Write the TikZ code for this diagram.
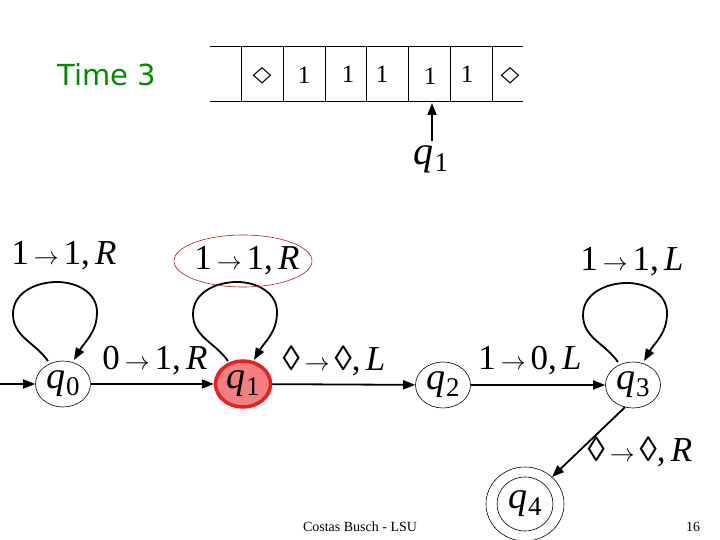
\documentclass[tikz,border=0pt]{standalone}
\usepackage{fontspec}
\setmainfont{Liberation Serif}
\newfontfamily\dejavu{DejaVu Sans}
\newfontfamily\lsans{DejaVu Sans}
\usetikzlibrary{arrows.meta,calc,shapes.geometric}
\definecolor{timegreen}{RGB}{0,140,0}
\definecolor{qred}{RGB}{232,32,32}
\definecolor{qfill}{RGB}{243,128,128}
\definecolor{ovalred}{RGB}{170,30,30}
\newcommand{\qs}[1]{\textit{q}\kern0.02em\raisebox{-7pt}{\fontsize{27}{27}\selectfont #1}}
\newcommand{\trn}[3]{#1\kern0.14em$\rightarrow$\kern0.14em#2,\kern0.15em\textit{#3}}
\newcommand{\dm}{◊}
\newcommand{\loopon}[1]{%
  \draw[edge] ($(#1)+(-15,-23)$) to[out=125,in=270] ($(#1)+(-50,-70)$)
    to[out=90,in=180] ($(#1)+(-6,-102)$)
    to[out=0,in=90] ($(#1)+(34,-72)$)
    to[out=270,in=60] ($(#1)+(11,-24)$);}
\begin{document}
\begin{tikzpicture}[x=1pt,y=-1pt,
  state/.style={draw,ellipse,minimum width=55pt,minimum height=46pt,inner sep=0pt,line width=0.6pt,font=\fontsize{38}{38}\selectfont},
  edge/.style={line width=1.8pt,-{Triangle[length=12pt,width=9pt]}},
  lab/.style={font=\fontsize{35}{35}\selectfont,inner sep=0pt},
  cell/.style={font=\fontsize{25}{25}\selectfont,inner sep=0pt},
  dcell/.style={font=\dejavu\fontsize{22}{22}\selectfont,inner sep=0pt,xscale=1.12},
  tape/.style={line width=1pt}]
\useasboundingbox (0,0) rectangle (720,540);
% Time label
\node[font=\lsans\fontsize{29}{29}\selectfont,text=timegreen] (time) at (107,75) {Time 3};
% tape
\draw[tape] (210,47) -- (523,47);
\draw[tape] (210,102) -- (523,102);
\foreach \x in {241,283,325,366,408,450,492} \draw[tape] (\x,47) -- (\x,102);
\node[dcell] (c1) at (262,76) {◇};
\node[cell] (c2) at (304,75) {1};
\node[cell] (c3) at (348,74) {1};
\node[cell] (c4) at (382,74) {1};
\node[cell] (c5) at (430,76) {1};
\node[cell] (c6) at (467,74) {1};
\node[dcell] (c7) at (510,76) {◇};
\coordinate (headtip) at (432,103);
\node[font=\fontsize{40}{40}\selectfont,inner sep=0pt,anchor=base] (head) at (431,165) {\qs{1}};
\draw[edge] (432,141) -- (headtip);
% states
\node[state] (q0) at (63,384) {\qs{0}};
\node[state,draw=qred,fill=qfill,line width=3.5pt] (q1) at (243,384) {\qs{1}};
\node[state] (q2) at (443,385) {\qs{2}};
\node[state] (q3) at (633,385) {\qs{3}};
\node[state,minimum width=56pt,minimum height=54pt] (q4) at (525,504) {\qs{4}};
\node[draw,ellipse,minimum width=78pt,minimum height=74pt,line width=0.6pt] (q4o) at (525,504) {};
\coordinate (start) at (0,384);
% edges
\draw[edge] (start) -- (q0);
\draw[edge] (q0) -- (q1);
\draw[edge] (q1) -- (q2);
\draw[edge] (q2) -- (q3);
\draw[edge] (q3.250) -- (q4o.45);
\loopon{q0}
\loopon{q1}
\loopon{q3}
% labels
\node[lab] (l01) at (155,361) {\trn{0}{1}{R}};
\node[lab] (l12) at (334,361) {\trn{\dm}{\dm}{L}};
\node[lab] (l23) at (530,361) {\trn{1}{0}{L}};
\node[lab] (l00) at (64,256) {\trn{1}{1}{R}};
\node[lab] (l11) at (247,261) {\trn{1}{1}{R}};
\node[lab] (l33) at (632,262) {\trn{1}{1}{L}};
\node[lab] (l34) at (640,452) {\trn{\dm}{\dm}{R}};
\node[draw=ovalred,ellipse,line width=0.6pt,minimum width=138pt,minimum height=52pt] (oval) at (243,261) {};
% footer
\node[font=\fontsize{14}{14}\selectfont] (foot) at (360,527) {Costas Busch - LSU};
\node[font=\fontsize{14}{14}\selectfont] (page) at (693,527) {16};
\end{tikzpicture}
\end{document}
